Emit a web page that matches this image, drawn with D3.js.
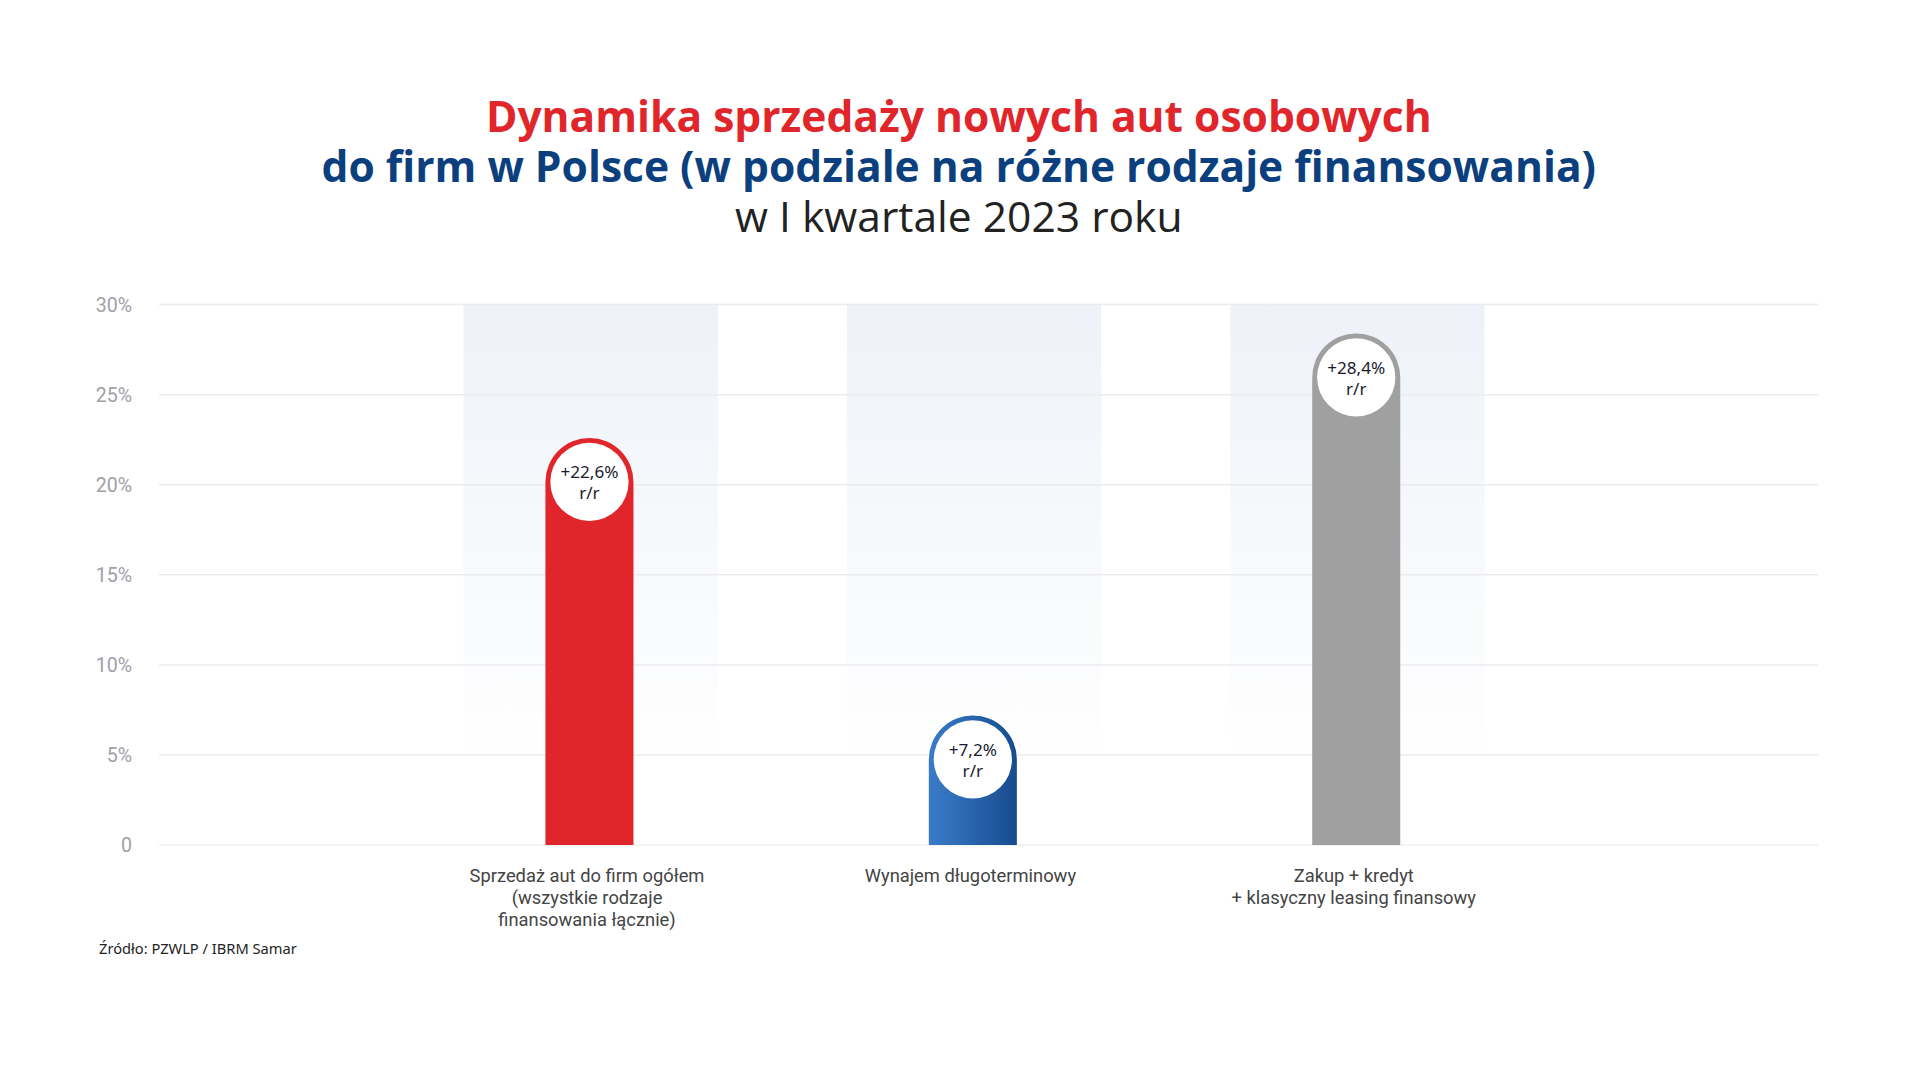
<!DOCTYPE html>
<html><head><meta charset="utf-8">
<script src="https://cdn.jsdelivr.net/npm/d3@7"></script>
<style>body{margin:0;background:#fff;overflow:hidden}</style></head>
<body><svg id="c" width="1920" height="1080" viewBox="0 0 1570 883"></svg>
<script>
const categories = [["Sprzedaż aut do firm ogółem","(wszystkie rodzaje","finansowania łącznie)"],["Wynajem długoterminowy"],["Zakup + kredyt","+ klasyczny leasing finansowy"]];
const values = [22.6, 7.2, 28.4];
const labels = ["+22,6%", "+7,2%", "+28,4%"];
const colors = ["#e0262b", "url(#blueGrad)", "#a0a0a0"];
const yTicks = [0, 5, 10, 15, 20, 25, 30];

const svg = d3.select("#c");
const defs = svg.append("defs");
const bg = defs.append("linearGradient").attr("id","bandGrad").attr("x1",0).attr("x2",0).attr("y1",0).attr("y2",1);
bg.append("stop").attr("offset","0%").attr("stop-color","#eef2f8");
bg.append("stop").attr("offset","100%").attr("stop-color","#ffffff");
const bl = defs.append("linearGradient").attr("id","blueGrad").attr("x1",0).attr("x2",1).attr("y1",0).attr("y2",0);
bl.append("stop").attr("offset","0%").attr("stop-color","#3a7cc9");
bl.append("stop").attr("offset","100%").attr("stop-color","#174c8e");

const L=130,R=1487,T=249,B=691;
const y = d3.scaleLinear().domain([0,30]).range([B,T]);
const x = d3.scaleLinear().domain([0,2]).range([482,1109]);
const bandW=208, barW=72, r=barW/2;

const tt=[["Dynamika sprzedaży nowych aut osobowych","#e0262b",700],["do firm w Polsce (w podziale na różne rodzaje finansowania)","#0c3f7e",700],["w I kwartale 2023 roku","#222",400]];
tt.forEach((t,i)=>svg.append("text").attr("x",784).attr("y",108+i*41).attr("text-anchor","middle")
  .attr("font-family","Open Sans, Noto Sans, sans-serif").attr("font-size",34.8).attr("font-weight",t[2]).attr("fill",t[1]).text(t[0]));

svg.selectAll("rect.band").data(values).join("rect").attr("x",(d,i)=>x(i)-bandW/2+1).attr("y",T).attr("width",bandW).attr("height",y(5)-T+10).attr("fill","url(#bandGrad)");

svg.selectAll("line.g").data(yTicks).join("line").attr("x1",L).attr("x2",R).attr("y1",d=>y(d)).attr("y2",d=>y(d)).attr("stroke","#ececf0").attr("stroke-width",1.2);
svg.selectAll("text.yt").data(yTicks).join("text").attr("x",108).attr("y",d=>y(d)+6).attr("text-anchor","end")
  .attr("font-family","Roboto, sans-serif").attr("font-size",16).attr("fill","#a0a0a8").text(d=>d===0?"0":d+"%");

values.forEach((v,i)=>{
  const cx=x(i), top=y(v);
  const p=`M${cx-r},${B} L${cx-r},${top+r} A${r},${r} 0 0 1 ${cx+r},${top+r} L${cx+r},${B} Z`;
  svg.append("path").attr("d",p).attr("fill",colors[i]);
  svg.append("circle").attr("cx",cx).attr("cy",top+r).attr("r",r-4).attr("fill","#fff");
  svg.append("text").attr("x",cx).attr("y",top+r-3).attr("text-anchor","middle").attr("font-family","Noto Sans, sans-serif").attr("font-size",14).attr("fill","#1a1a2e").text(labels[i]);
  svg.append("text").attr("x",cx).attr("y",top+r+14).attr("text-anchor","middle").attr("font-family","Noto Sans, sans-serif").attr("font-size",14).attr("fill","#1a1a2e").text("r/r");
  categories[i].forEach((l,j)=>svg.append("text").attr("x",cx-2).attr("y",721+j*18).attr("text-anchor","middle").attr("font-family","Roboto, sans-serif").attr("font-size",15).attr("fill","#444").text(l));
});
svg.append("text").attr("x",81).attr("y",780).attr("font-family","Noto Sans, sans-serif").attr("font-size",12).attr("fill","#222").text("Źródło:  PZWLP / IBRM Samar");
</script></body></html>
